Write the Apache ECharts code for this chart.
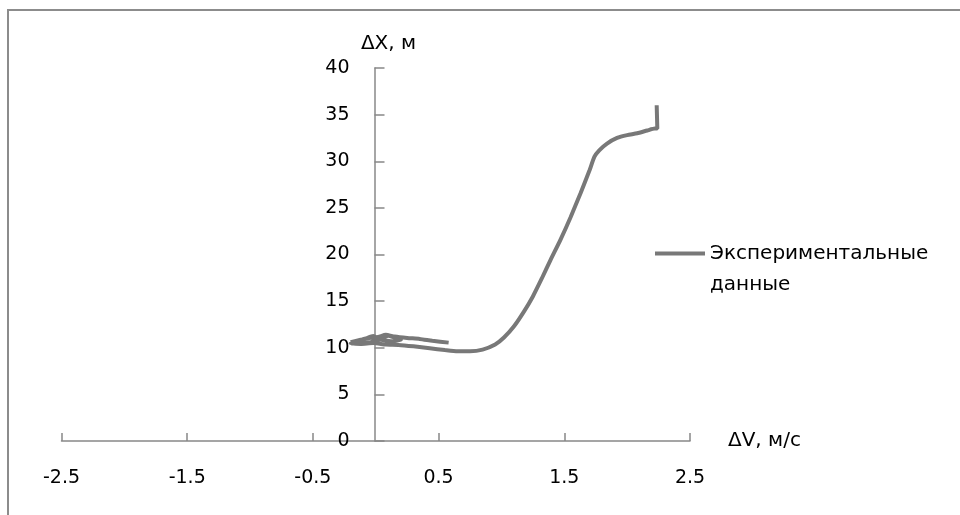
<!DOCTYPE html>
<html>
<head>
<meta charset="utf-8">
<script src="https://cdn.jsdelivr.net/npm/echarts@6/dist/echarts.min.js"></script>
<style>
  html, body { margin: 0; padding: 0; background: #fff; }
  #chart { width: 960px; height: 515px; }
</style>
</head>
<body>
<div id="chart"></div>
<script>
// ΔV, м/с
const dV = [
  0.58, 0.45, 0.35, 0.25, 0.15, 0.08, 0.02, -0.05, -0.12, -0.2,
  -0.14, -0.08, -0.02, 0.04, 0.1, 0.16, 0.2, 0.12, 0.04, -0.04,
  -0.12, -0.2, -0.12, -0.02, 0.08, 0.18, 0.3, 0.43, 0.55, 0.65,
  0.75, 0.85, 0.95, 1.02, 1.1, 1.18, 1.25, 1.32, 1.39, 1.47,
  1.55, 1.63, 1.7, 1.74, 1.78, 1.84, 1.92, 2.0, 2.08, 2.16,
  2.22, 2.24, 2.235
]
// ΔX, м
const dX = [
  10.55, 10.75, 10.95, 11.05, 11.2, 11.4, 11.15, 11.05, 10.85, 10.6,
  10.75, 11.0, 11.25, 10.95, 11.3, 11.05, 10.85, 10.7, 10.85, 10.6,
  10.5, 10.45, 10.4, 10.5, 10.35, 10.3, 10.15, 9.95, 9.75, 9.62,
  9.62, 9.8, 10.35, 11.1, 12.3, 13.9, 15.5, 17.4, 19.4, 21.6,
  24.0, 26.6, 29.0, 30.5, 31.2, 31.9, 32.5, 32.8, 33.0, 33.3,
  33.5, 33.5, 36.0
]
const seriesName = 'Экспериментальные\nданные'

const chart = echarts.init(document.getElementById('chart'))
const font = 'DejaVu Sans'
const axisColor = '#888'
const lineColor = '#787878'

chart.setOption({
  animation: false,
  textStyle: { fontFamily: font },
  graphic: [{
    type: 'rect',
    shape: { x: 8, y: 10, width: 1200, height: 800 },
    style: { fill: 'none', stroke: '#8c8c8c', lineWidth: 2 },
    silent: true
  }],
  grid: { left: 61.5, right: 270, top: 68, bottom: 74 },
  legend: {
    left: 655,
    top: 207,
    padding: 0,
    orient: 'vertical',
    icon: 'rect',
    itemWidth: 50,
    itemHeight: 4,
    itemGap: 0,
    itemStyle: { color: lineColor },
    formatter: n => '\n' + n,
    textStyle: {
      fontFamily: font, fontSize: 20, color: '#000', lineHeight: 31
    },
    data: [{ name: seriesName }]
  },
  xAxis: {
    type: 'value',
    min: -2.5,
    max: 2.5,
    interval: 1,
    name: 'ΔV, м/с',
    nameLocation: 'end',
    nameGap: 38,
    nameTextStyle: { fontFamily: font, fontSize: 20, color: '#000', align: 'left' },
    splitLine: { show: false },
    axisLine: { onZero: false, lineStyle: { color: axisColor, width: 1.5 } },
    axisTick: { inside: true, length: 8, lineStyle: { color: axisColor, width: 1.5 } },
    axisLabel: {
      margin: 28, fontFamily: font, fontSize: 19, color: '#000',
      formatter: v => String(v)
    }
  },
  yAxis: {
    type: 'value',
    min: 0,
    max: 40,
    interval: 5,
    offset: -313,
    name: 'ΔX, м',
    nameLocation: 'end',
    nameGap: 14,
    nameTextStyle: { fontFamily: font, fontSize: 20, color: '#000', padding: [0, 0, 0, 28] },
    splitLine: { show: false },
    axisLine: { onZero: false, lineStyle: { color: axisColor, width: 1.5 } },
    axisTick: { inside: true, length: 10, lineStyle: { color: axisColor, width: 1.5 } },
    axisLabel: { margin: 25, fontFamily: font, fontSize: 19, color: '#000' }
  },
  series: [{
    name: seriesName,
    type: 'line',
    symbol: 'none',
    smooth: 0.2,
    data: dV.map((v, i) => [v, dX[i]]),
    lineStyle: { color: lineColor, width: 4 },
    itemStyle: { color: lineColor }
  }]
})
</script>
</body>
</html>
